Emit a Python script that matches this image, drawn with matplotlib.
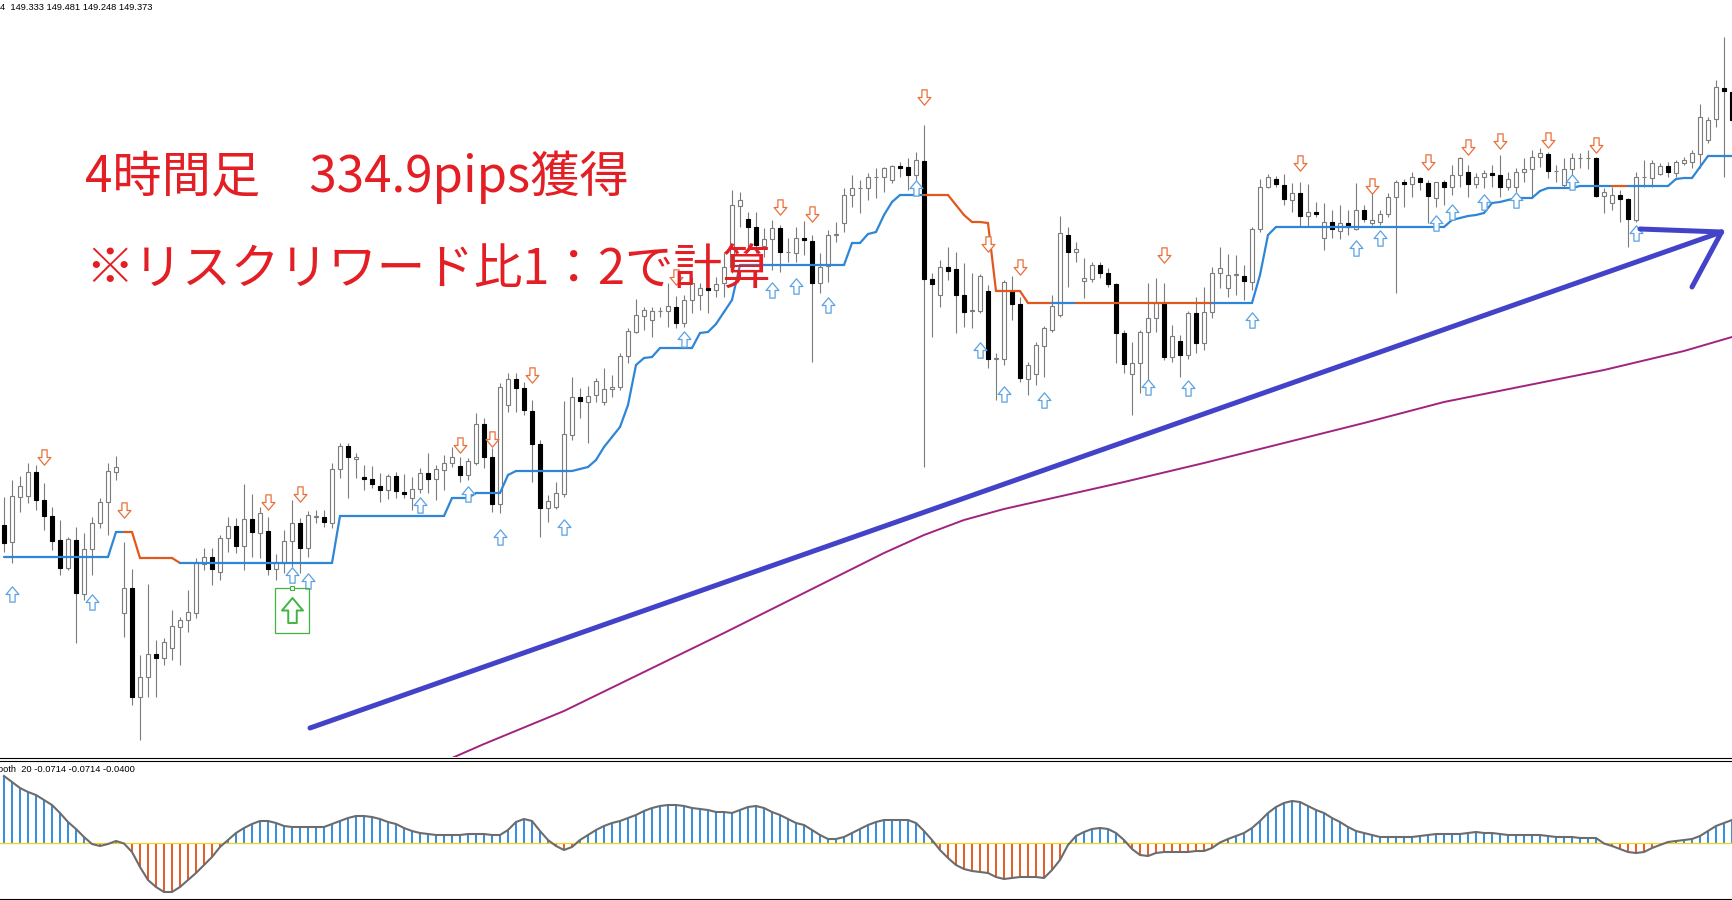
"""MT4 style 4h chart with supertrend signals and a smoothed oscillator."""

import matplotlib
import numpy as np

matplotlib.use("Agg")
import matplotlib.patches as mpatches
import matplotlib.pyplot as plt
from matplotlib.collections import LineCollection
from matplotlib.lines import Line2D
from matplotlib.path import Path

# ---- candles (4h bars) ----
OPEN = [
    145.25, 145.08, 145.53, 145.54, 145.78, 145.50, 145.34, 145.10, 144.82, 145.10,
    144.56, 145.01, 145.27, 145.48, 145.78, 144.37, 144.62, 143.53, 143.73, 143.96,
    143.92, 144.02, 144.23, 144.30, 144.37, 144.86, 144.93, 144.78, 145.12, 145.24,
    145.04, 145.31, 145.17, 145.19, 144.81, 144.87, 145.09, 145.27, 145.02, 145.33,
    145.33, 145.27, 145.81, 146.04, 145.91, 145.73, 145.71, 145.64, 145.60, 145.74,
    145.58, 145.52, 145.61, 145.77, 145.71, 145.80, 145.87, 145.84, 145.75, 145.87,
    146.26, 145.93, 145.46, 146.45, 146.71, 146.62, 146.39, 146.06, 145.42, 145.43,
    145.56, 146.15, 146.53, 146.48, 146.55, 146.48, 146.61, 146.63, 146.94, 147.18,
    147.34, 147.30, 147.39, 147.39, 147.43, 147.27, 147.50, 147.55, 147.62, 147.60,
    147.67, 147.83, 148.44, 148.31, 148.23, 148.04, 148.11, 148.22, 147.98, 147.97,
    148.12, 148.09, 147.67, 147.84, 148.15, 148.27, 148.55, 148.62, 148.62, 148.73,
    148.73, 148.70, 148.84, 148.83, 148.75, 148.89, 147.71, 147.55, 147.83, 147.81,
    147.55, 147.39, 147.39, 147.59, 146.91, 146.91, 147.59, 147.46, 146.71, 146.76,
    147.04, 147.20, 147.35, 148.15, 147.98, 147.69, 147.71, 147.85, 147.77, 147.66,
    147.17, 146.76, 146.87, 147.18, 147.32, 147.47, 146.93, 147.09, 146.95, 147.37,
    147.07, 147.38, 147.77, 147.62, 147.75, 147.74, 147.68, 148.21, 148.63, 148.71,
    148.65, 148.50, 148.57, 148.34, 148.38, 148.12, 148.28, 148.19, 148.27, 148.21,
    148.40, 148.27, 148.28, 148.36, 148.53, 148.68, 148.66, 148.72, 148.67, 148.52,
    148.68, 148.63, 148.75, 148.78, 148.66, 148.73, 148.77, 148.75, 148.63, 148.63,
    148.78, 148.81, 148.93, 148.96, 148.79, 148.65, 148.81, 148.92, 148.92, 148.92,
    148.54, 148.47, 148.55, 148.51, 148.30, 148.73, 148.72, 148.76, 148.84, 148.77,
    148.87, 148.88, 148.96, 149.10, 149.31, 149.62, 149.58,
]
HIGH = [
    145.53, 145.70, 145.74, 145.87, 145.85, 145.67, 145.43, 145.30, 145.13, 145.23,
    145.17, 145.33, 145.52, 145.87, 145.94, 145.08, 144.81, 143.95, 144.66, 144.10,
    144.12, 144.40, 144.33, 144.60, 144.92, 145.02, 145.02, 145.15, 145.33, 145.32,
    145.66, 145.56, 145.43, 145.33, 144.96, 145.20, 145.50, 145.32, 145.39, 145.40,
    145.40, 145.87, 146.07, 146.07, 145.97, 145.85, 145.84, 145.77, 145.76, 145.78,
    145.76, 145.73, 145.82, 145.97, 145.85, 145.95, 146.03, 145.93, 145.92, 146.37,
    146.32, 146.02, 146.67, 146.77, 146.77, 146.68, 146.50, 146.10, 145.55, 145.68,
    146.49, 146.73, 146.62, 146.64, 146.72, 146.82, 146.75, 146.97, 147.22, 147.51,
    147.43, 147.43, 147.43, 147.67, 147.54, 147.55, 147.73, 147.67, 147.73, 147.73,
    147.97, 148.60, 148.58, 148.38, 148.38, 148.22, 148.30, 148.25, 148.12, 148.23,
    148.29, 148.15, 147.97, 148.20, 148.28, 148.62, 148.75, 148.70, 148.77, 148.82,
    148.83, 148.85, 148.88, 148.92, 148.98, 149.25, 147.77, 147.90, 148.03, 147.98,
    147.87, 147.77, 147.76, 147.65, 146.97, 147.70, 147.74, 147.53, 146.88, 147.08,
    147.24, 147.55, 148.34, 148.23, 148.08, 147.92, 147.88, 147.88, 147.82, 147.67,
    147.20, 147.08, 147.20, 147.67, 147.72, 147.67, 147.25, 147.15, 147.39, 147.53,
    147.63, 147.83, 148.03, 147.96, 147.95, 147.85, 148.23, 148.71, 148.76, 148.74,
    148.76, 148.67, 148.68, 148.66, 148.48, 148.47, 148.40, 148.45, 148.40, 148.67,
    148.45, 148.57, 148.40, 148.57, 148.70, 148.71, 148.78, 148.73, 148.70, 148.68,
    148.70, 148.85, 148.93, 148.85, 148.77, 148.80, 148.85, 148.95, 148.78, 148.82,
    148.92, 149.00, 149.02, 148.98, 148.85, 148.92, 148.97, 148.97, 149.00, 148.93,
    148.62, 148.63, 148.60, 148.52, 148.78, 148.90, 148.90, 148.87, 148.88, 148.90,
    148.93, 149.00, 149.46, 149.33, 149.70, 150.13, 149.60,
]
LOW = [
    144.98, 144.87, 145.38, 145.47, 145.40, 145.20, 145.00, 144.75, 144.80, 144.07,
    144.50, 144.75, 145.22, 145.15, 145.70, 144.13, 143.45, 143.10, 143.53, 143.53,
    143.85, 143.90, 143.85, 144.18, 144.32, 144.80, 144.65, 144.70, 144.98, 144.97,
    144.80, 144.93, 144.92, 144.75, 144.70, 144.77, 144.83, 144.77, 144.93, 145.27,
    145.23, 145.22, 145.72, 145.52, 145.72, 145.60, 145.62, 145.48, 145.51, 145.52,
    145.52, 145.40, 145.57, 145.57, 145.50, 145.60, 145.83, 145.68, 145.70, 145.85,
    145.82, 145.38, 145.37, 146.38, 146.38, 146.35, 145.68, 145.13, 145.28, 145.41,
    145.53, 146.10, 146.32, 146.07, 146.48, 146.45, 146.53, 146.60, 146.87, 147.17,
    147.20, 147.13, 147.33, 147.23, 147.22, 147.23, 147.37, 147.40, 147.37, 147.53,
    147.53, 147.77, 148.23, 148.02, 147.97, 147.93, 147.80, 147.78, 147.88, 147.88,
    147.95, 146.88, 147.57, 147.68, 148.08, 148.18, 148.43, 148.37, 148.50, 148.52,
    148.58, 148.67, 148.73, 148.60, 148.70, 145.83, 147.13, 147.43, 147.70, 147.17,
    147.23, 147.22, 147.37, 146.82, 146.50, 146.85, 147.30, 146.68, 146.55, 146.65,
    146.73, 147.18, 147.33, 147.63, 147.88, 147.52, 147.68, 147.72, 147.63, 146.87,
    146.77, 146.35, 146.57, 146.67, 147.18, 146.90, 146.88, 146.73, 146.91, 146.97,
    147.00, 147.32, 147.62, 147.53, 147.55, 147.50, 147.60, 148.18, 148.62, 148.63,
    148.45, 148.38, 148.23, 148.23, 148.33, 148.00, 148.12, 148.11, 148.15, 148.20,
    148.28, 148.25, 148.25, 148.33, 147.57, 148.43, 148.53, 148.60, 148.27, 148.43,
    148.45, 148.55, 148.63, 148.53, 148.62, 148.62, 148.63, 148.53, 148.60, 148.58,
    148.68, 148.52, 148.83, 148.72, 148.68, 148.63, 148.73, 148.82, 148.81, 148.53,
    148.37, 148.40, 148.28, 148.03, 148.28, 148.63, 148.63, 148.75, 148.73, 148.73,
    148.85, 148.82, 148.82, 149.07, 149.23, 148.73, 149.25,
]
CLOSE = [
    145.07, 145.54, 145.64, 145.78, 145.50, 145.34, 145.09, 144.82, 145.11, 144.57,
    145.01, 145.27, 145.48, 145.79, 145.83, 144.62, 143.53, 143.73, 143.96, 143.92,
    144.08, 144.24, 144.30, 144.38, 144.87, 144.93, 144.81, 145.12, 145.24, 145.04,
    145.31, 145.18, 145.37, 144.81, 144.87, 145.09, 145.27, 145.02, 145.35, 145.34,
    145.28, 145.81, 146.04, 145.93, 145.93, 145.71, 145.66, 145.60, 145.74, 145.59,
    145.56, 145.61, 145.77, 145.71, 145.81, 145.87, 145.93, 145.75, 145.89, 146.26,
    145.93, 145.46, 146.63, 146.71, 146.62, 146.40, 146.06, 145.42, 145.49, 145.57,
    146.16, 146.53, 146.49, 146.54, 146.69, 146.61, 146.63, 146.94, 147.19, 147.35,
    147.40, 147.39, 147.39, 147.44, 147.27, 147.50, 147.67, 147.62, 147.60, 147.66,
    147.83, 148.45, 148.50, 148.23, 148.05, 148.11, 148.22, 147.98, 147.98, 148.12,
    148.10, 147.67, 147.83, 148.15, 148.16, 148.55, 148.62, 148.62, 148.73, 148.73,
    148.82, 148.84, 148.82, 148.75, 148.90, 147.71, 147.66, 147.83, 147.79, 147.55,
    147.38, 147.40, 147.74, 146.91, 146.92, 147.68, 147.46, 146.72, 146.85, 147.05,
    147.22, 147.44, 148.17, 147.98, 148.01, 147.72, 147.85, 147.77, 147.66, 147.17,
    146.86, 146.87, 147.18, 147.32, 147.47, 146.93, 147.14, 146.95, 147.37, 147.07,
    147.38, 147.77, 147.82, 147.75, 147.76, 147.69, 148.21, 148.63, 148.73, 148.66,
    148.51, 148.57, 148.34, 148.38, 148.36, 148.28, 148.21, 148.27, 148.23, 148.40,
    148.31, 148.30, 148.36, 148.53, 148.68, 148.66, 148.73, 148.68, 148.54, 148.68,
    148.63, 148.75, 148.92, 148.66, 148.73, 148.77, 148.75, 148.63, 148.71, 148.78,
    148.81, 148.93, 148.97, 148.79, 148.79, 148.81, 148.92, 148.92, 148.92, 148.54,
    148.58, 148.55, 148.51, 148.31, 148.73, 148.73, 148.87, 148.84, 148.78, 148.88,
    148.90, 148.97, 149.33, 149.30, 149.63, 149.59, 149.30,
]

# ---- supertrend style stop line ----
STOP_LINE = [
    144.93, 144.93, 144.93, 144.93, 144.93, 144.93, 144.93, 144.93, 144.93, 144.93,
    144.93, 144.93, 144.93, 144.93, 145.18, 145.18, 145.18, 144.92, 144.92, 144.92,
    144.92, 144.92, 144.87, 144.87, 144.87, 144.87, 144.87, 144.87, 144.87, 144.87,
    144.87, 144.87, 144.87, 144.87, 144.87, 144.87, 144.87, 144.87, 144.87, 144.87,
    144.87, 144.87, 145.34, 145.34, 145.34, 145.34, 145.34, 145.34, 145.34, 145.34,
    145.34, 145.34, 145.34, 145.34, 145.34, 145.34, 145.52, 145.52, 145.52, 145.57,
    145.57, 145.57, 145.57, 145.75, 145.79, 145.79, 145.79, 145.79, 145.79, 145.79,
    145.79, 145.79, 145.81, 145.83, 145.90, 146.03, 146.13, 146.23, 146.45, 146.85,
    146.92, 146.93, 147.02, 147.02, 147.02, 147.02, 147.02, 147.17, 147.18, 147.26,
    147.38, 147.50, 147.85, 147.85, 147.85, 147.85, 147.85, 147.85, 147.85, 147.85,
    147.85, 147.85, 147.85, 147.85, 147.85, 147.85, 148.07, 148.07, 148.16, 148.18,
    148.35, 148.48, 148.55, 148.55, 148.55, 148.55, 148.55, 148.55, 148.55, 148.45,
    148.35, 148.28, 148.28, 148.27, 147.59, 147.59, 147.59, 147.59, 147.47, 147.47,
    147.47, 147.47, 147.47, 147.47, 147.47, 147.47, 147.47, 147.47, 147.47, 147.47,
    147.47, 147.47, 147.47, 147.47, 147.47, 147.47, 147.47, 147.47, 147.47, 147.47,
    147.47, 147.47, 147.47, 147.47, 147.47, 147.47, 147.47, 147.75, 148.15, 148.23,
    148.23, 148.23, 148.23, 148.23, 148.23, 148.23, 148.23, 148.23, 148.23, 148.23,
    148.23, 148.23, 148.23, 148.23, 148.23, 148.23, 148.23, 148.23, 148.23, 148.23,
    148.23, 148.30, 148.32, 148.34, 148.35, 148.37, 148.47, 148.48, 148.50, 148.52,
    148.52, 148.52, 148.59, 148.62, 148.62, 148.62, 148.62, 148.64, 148.64, 148.64,
    148.64, 148.64, 148.64, 148.64, 148.64, 148.64, 148.64, 148.64, 148.64, 148.71,
    148.72, 148.72, 148.83, 148.94, 148.94, 148.94, 148.94,
]
# bar ranges where the stop line is drawn in the "down" colour
DOWN_SPANS = [(16, 22), (116, 131), (135, 151), (202, 203)]

# ---- signal arrows ----
BUY_IDX = [1, 11, 36, 38, 52, 58, 62, 70, 85, 96, 99, 103, 114, 122, 125, 130,
           143, 148, 156, 169, 172, 179, 181, 185, 189, 196, 204]
BUY_PRICE = [144.56, 144.48, 144.75, 144.69, 145.45, 145.56, 145.13, 145.23,
             147.11, 147.60, 147.64, 147.45, 148.62, 147.00, 146.56, 146.50,
             146.63, 146.62, 147.30, 148.02, 148.12, 148.27, 148.38, 148.48,
             148.50, 148.68, 148.17]
SELL_IDX = [5, 15, 33, 37, 57, 61, 66, 84, 97, 101, 115, 123, 127, 145, 162,
            171, 178, 183, 187, 193, 199]
SELL_PRICE = [145.93, 145.40, 145.48, 145.56, 146.05, 146.11, 146.75, 147.73,
              148.43, 148.36, 149.53, 148.06, 147.83, 147.95, 148.87, 148.64,
              148.88, 149.03, 149.09, 149.10, 149.05]

# ---- long moving average (sampled) ----
MA_IDX = [52, 60, 70, 80, 90, 100, 110, 115, 120, 125, 130, 140, 150, 160,
          170, 180, 190, 200, 210, 216]
MA_VAL = [142.78, 143.06, 143.39, 143.78, 144.17, 144.57, 144.97, 145.15,
          145.30, 145.41, 145.50, 145.68, 145.87, 146.07, 146.27, 146.48,
          146.64, 146.80, 146.99, 147.13]

# ---- smoothed oscillator (sub window) ----
OSC = [
    0.134, 0.122, 0.110, 0.102, 0.096, 0.086, 0.076, 0.060, 0.042, 0.028,
    0.012, -0.002, -0.006, -0.002, 0.004, -0.001, -0.018, -0.048, -0.074, -0.088,
    -0.098, -0.098, -0.088, -0.074, -0.060, -0.044, -0.028, -0.008, 0.006, 0.020,
    0.030, 0.038, 0.044, 0.044, 0.040, 0.034, 0.032, 0.032, 0.032, 0.032,
    0.032, 0.038, 0.044, 0.050, 0.054, 0.054, 0.052, 0.048, 0.042, 0.038,
    0.030, 0.024, 0.020, 0.018, 0.016, 0.016, 0.016, 0.016, 0.018, 0.018,
    0.018, 0.016, 0.016, 0.026, 0.042, 0.048, 0.044, 0.024, 0.006, -0.006,
    -0.014, -0.008, 0.006, 0.016, 0.026, 0.034, 0.040, 0.044, 0.050, 0.056,
    0.064, 0.070, 0.074, 0.076, 0.076, 0.074, 0.070, 0.068, 0.066, 0.062,
    0.062, 0.060, 0.066, 0.072, 0.074, 0.070, 0.062, 0.056, 0.048, 0.040,
    0.036, 0.026, 0.016, 0.008, 0.008, 0.012, 0.020, 0.028, 0.036, 0.042,
    0.046, 0.046, 0.046, 0.046, 0.040, 0.024, 0.006, -0.014, -0.030, -0.044,
    -0.052, -0.056, -0.058, -0.060, -0.068, -0.072, -0.070, -0.068, -0.068, -0.068,
    -0.070, -0.054, -0.034, -0.004, 0.014, 0.022, 0.028, 0.030, 0.028, 0.020,
    0.006, -0.012, -0.024, -0.026, -0.020, -0.018, -0.018, -0.018, -0.018, -0.016,
    -0.016, -0.010, 0.001, 0.008, 0.014, 0.020, 0.030, 0.044, 0.060, 0.072,
    0.080, 0.084, 0.082, 0.074, 0.066, 0.060, 0.050, 0.042, 0.032, 0.024,
    0.020, 0.016, 0.012, 0.012, 0.012, 0.012, 0.012, 0.014, 0.016, 0.018,
    0.018, 0.018, 0.018, 0.020, 0.022, 0.020, 0.020, 0.018, 0.016, 0.016,
    0.016, 0.016, 0.016, 0.014, 0.012, 0.012, 0.012, 0.010, 0.010, 0.010,
    -0.001, -0.006, -0.012, -0.018, -0.020, -0.018, -0.010, -0.004, 0.002, 0.004,
    0.006, 0.008, 0.014, 0.024, 0.034, 0.040, 0.046,
]

HEADER = "4  149.333 149.481 149.248 149.373"
OSC_LABEL = "ooth  20 -0.0714 -0.0714 -0.0400"
TITLE_1 = "4時間足\u3000334.9pips獲得"
TITLE_2 = "※リスクリワード比1：2で計算"

W, H = 1733, 900
BLUE = "#2f86d6"
ORANGE = "#e2581c"
ARROW_BLUE = "#5aa2e2"
ARROW_ORANGE = "#e8703a"
CANDLE_GREY = "#7c7c7c"
RED = "#e31e24"
JP_FONT = ["Noto Sans CJK JP", "DejaVu Sans"]


def arrow_path(direction: int) -> Path:
    """Hollow block arrow pointing up (1) or down (-1)."""
    pts = [(-0.17, -0.5), (0.17, -0.5), (0.17, 0.0), (0.42, 0.0),
           (0.0, 0.5), (-0.42, 0.0), (-0.17, 0.0), (-0.17, -0.5)]
    verts = [(x, y * direction) for x, y in pts]
    codes = [Path.MOVETO] + [Path.LINETO] * 6 + [Path.CLOSEPOLY]
    return Path(verts, codes)


def draw_candles(ax):
    idx = np.arange(len(CLOSE))
    o, h, l, c = (np.array(v) for v in (OPEN, HIGH, LOW, CLOSE))
    bull = c >= o
    ax.vlines(idx, l, h, color=CANDLE_GREY, lw=0.8, zorder=2)
    lo = np.minimum(o, c)
    body = np.abs(c - o)
    ax.bar(idx[bull], body[bull], bottom=lo[bull], width=0.55,
           facecolor="white", edgecolor=CANDLE_GREY, lw=0.8, zorder=3)
    ax.bar(idx[~bull], body[~bull], bottom=lo[~bull], width=0.55,
           facecolor="black", edgecolor="black", lw=0.8, zorder=3)


def draw_stop_line(ax):
    down = np.zeros(len(STOP_LINE), dtype=bool)
    for a, b in DOWN_SPANS:
        down[a:b + 1] = True
    segs = [[(i - 1, STOP_LINE[i - 1]), (i, STOP_LINE[i])]
            for i in range(1, len(STOP_LINE))]
    cols = [ORANGE if down[i] else BLUE for i in range(1, len(STOP_LINE))]
    ax.add_collection(LineCollection(segs, colors=cols, linewidths=1.6,
                                     capstyle="round", zorder=4))


fig = plt.figure(figsize=(W / 100, H / 100), dpi=100)
fig.patch.set_facecolor("white")

# main price window
ax = fig.add_axes((0, 1 - 757 / H, 1, 757 / H))
ax.set_xlim(-0.5, 216.125)
ax.set_ylim(142.93, 150.50)
ax.axis("off")

ax.plot(MA_IDX, MA_VAL, color="#a2237f", lw=1.4, zorder=1)
draw_candles(ax)
draw_stop_line(ax)

ax.plot(BUY_IDX, BUY_PRICE, ls="none", marker=arrow_path(1), ms=11,
        mfc="white", mec=ARROW_BLUE, mew=0.9, zorder=5)
ax.plot(SELL_IDX, SELL_PRICE, ls="none", marker=arrow_path(-1), ms=11,
        mfc="white", mec=ARROW_ORANGE, mew=0.9, zorder=5)

# highlighted entry (green box)
green = "#3fb43f"
ax.add_patch(mpatches.Rectangle((33.875, 144.17), 4.25, 0.45, fill=False,
                                ec=green, lw=0.9, zorder=6))
ax.plot([36], [144.615], marker="s", ms=3, mfc="white", mec=green, mew=0.8,
        zorder=7)
ax.plot([36], [144.40], marker=arrow_path(1), ms=18, mfc="white", mec=green,
        mew=1.4, zorder=7)

# hand drawn trend arrow
pen = dict(color="#4343c9", lw=3.6, solid_capstyle="round", zorder=8)
ax.plot([38.25, 214.7], [143.22, 148.18], **pen)
ax.plot([204.5, 214.7], [148.21, 148.18], **pen)
ax.plot([211.0, 214.7], [147.63, 148.18], **pen)

# oscillator window
axo = fig.add_axes((0, 2 / H, 1, 137.5 / H))
axo.set_xlim(-0.5, 216.125)
axo.set_ylim(-0.110, 0.165)
axo.axis("off")
osc = np.array(OSC)
axo.bar(np.arange(len(osc)), osc, width=0.34,
        color=np.where(osc > 0, "#3a8fdc", "#e3602a"), zorder=2)
axo.axhline(0, color="#f0d21e", lw=0.9, zorder=3)
axo.plot(np.arange(len(osc)), osc, color="#6c6c6c", lw=1.5, zorder=4)

# window separators
for yy in (757.5, 760.5, 898.5):
    fig.add_artist(Line2D([0, 1], [1 - yy / H] * 2, color="black", lw=0.8))

fig.text(0.5 / W, 1 - 7 / H, HEADER, fontsize=6.7, family="Liberation Sans",
         va="center", ha="left")
fig.text(-2 / W, 1 - 770 / H, OSC_LABEL, fontsize=6.7,
         family="Liberation Sans", va="center", ha="left")

fig.text(85 / W, 1 - 177 / H, TITLE_1, color=RED, fontsize=35.5,
         family=JP_FONT, va="center", ha="left", zorder=10)
fig.text(85 / W, 1 - 271 / H, TITLE_2, color=RED, fontsize=35,
         family=JP_FONT, va="center", ha="left", zorder=10)

fig.savefig("out.png", dpi=100, facecolor="white")
